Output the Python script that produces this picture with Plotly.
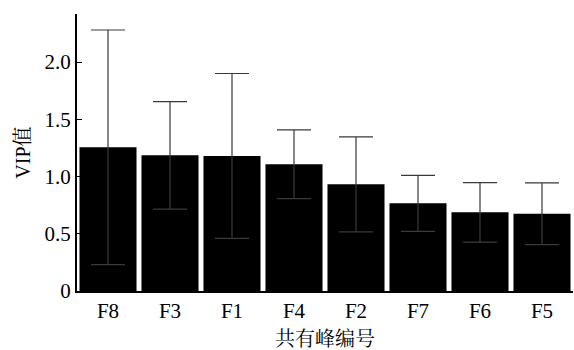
import plotly.graph_objects as go

# Shared peaks and their VIP values (mean ± deviation)
peaks = ["F8", "F3", "F1", "F4", "F2", "F7", "F6", "F5"]
vip = [1.255, 1.185, 1.18, 1.107, 0.932, 0.766, 0.687, 0.675]
vip_err = [1.025, 0.47, 0.72, 0.30, 0.415, 0.245, 0.26, 0.27]

y_ticks = [0, 0.5, 1.0, 1.5, 2.0]
y_tick_text = ["0", "0.5", "1.0", "1.5", "2.0"]

font_family = "'Liberation Serif', 'Noto Serif CJK SC', 'Noto Sans CJK SC', serif"

fig = go.Figure(
    go.Bar(
        x=peaks,
        y=vip,
        marker=dict(color="black", line=dict(width=0)),
        error_y=dict(
            type="data",
            array=vip_err,
            visible=True,
            color="#3a3a3a",
            thickness=1.2,
            width=17,
        ),
    )
)

fig.update_layout(
    width=574,
    height=350,
    margin=dict(l=77, r=1, t=14, b=59),
    paper_bgcolor="white",
    plot_bgcolor="white",
    bargap=0.08,
    showlegend=False,
    font=dict(family=font_family, size=21, color="black"),
    xaxis=dict(
        title=dict(text="共有峰编号", font=dict(size=20), standoff=10),
        showline=True,
        linecolor="black",
        linewidth=2,
        ticks="",
        showgrid=False,
        tickfont=dict(size=21),
    ),
    yaxis=dict(
        title=dict(text="VIP值", font=dict(size=20), standoff=9),
        range=[0, 2.42],
        tickvals=y_ticks,
        ticktext=y_tick_text,
        showline=True,
        linecolor="black",
        linewidth=2,
        ticks="inside",
        ticklen=5,
        tickcolor="black",
        showgrid=False,
        zeroline=False,
        tickfont=dict(size=21),
    ),
)

fig.write_html("out.html")
